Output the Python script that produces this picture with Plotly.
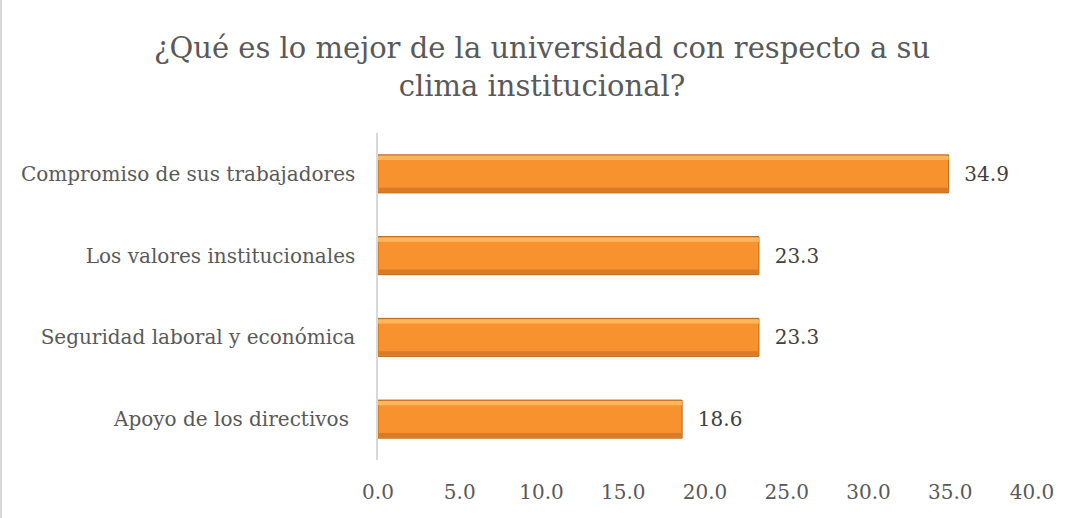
import plotly.graph_objects as go

categories = ["Apoyo de los directivos ", "Seguridad laboral y económica", "Los valores institucionales", "Compromiso de sus trabajadores"]
values = [18.6, 23.3, 23.3, 34.9]
tick_vals = [0, 5, 10, 15, 20, 25, 30, 35, 40]
tick_text = ["0.0", "5.0", "10.0", "15.0", "20.0", "25.0", "30.0", "35.0", "40.0"]
title_text = "¿Qué es lo mejor de la universidad con respecto a su<br>clima institucional?"

W, H = 1084, 518
L, R, T, B = 378, 52, 133, 58
pw = W - L - R

FONT = "DejaVu Serif"
BW = 0.465
SW = 0.05

fig = go.Figure()
fig.add_trace(go.Bar(
    y=categories, x=values, orientation="h",
    marker=dict(color="#F7922F", line=dict(color="#B8641C", width=1)),
    width=BW, offset=-BW / 2,
    text=[f"\u00a0\u00a0{v:.1f}" for v in values], textposition="outside",
    textfont=dict(family=FONT, size=20, color="#404040"),
    cliponaxis=False, hoverinfo="skip",
))
fig.add_trace(go.Bar(
    y=categories, x=values, orientation="h",
    marker=dict(color="#FDB65E", line=dict(width=0)),
    width=SW, offset=BW / 2 - SW - 0.012, hoverinfo="skip",
))
fig.add_trace(go.Bar(
    y=categories, x=values, orientation="h",
    marker=dict(color="#D97B26", line=dict(width=0)),
    width=SW, offset=-BW / 2 + 0.012, hoverinfo="skip",
))

fig.update_layout(
    width=W, height=H,
    margin=dict(l=L, r=R, t=T, b=B),
    paper_bgcolor="white", plot_bgcolor="white",
    showlegend=False, barmode="overlay",
    title=dict(text=title_text, x=0.5, xanchor="center", y=0.888, yanchor="top",
               font=dict(family=FONT, size=29, color="#595959")),
    xaxis=dict(range=[0, 40], tickvals=tick_vals, ticktext=tick_text,
               showgrid=False, zeroline=False, showline=False,
               tickfont=dict(family=FONT, size=20, color="#595959"),
               ticks="", ticklabelstandoff=18),
    yaxis=dict(showgrid=False, zeroline=False, showline=True, linecolor="#D9D9D9", linewidth=1.5,
               tickfont=dict(family=FONT, size=20, color="#595959"),
               ticks="", ticklabelstandoff=17),
    shapes=[dict(type="line", xref="paper", yref="paper",
                 x0=(1 - L) / pw, x1=(1 - L) / pw, y0=-B / (H - T - B), y1=1 + T / (H - T - B),
                 line=dict(color="#D9D9D9", width=2))],
)

fig.write_html("out.html", config={"displayModeBar": False},
               post_script="document.body.style.margin='0';window.dispatchEvent(new Event('resize'));")
